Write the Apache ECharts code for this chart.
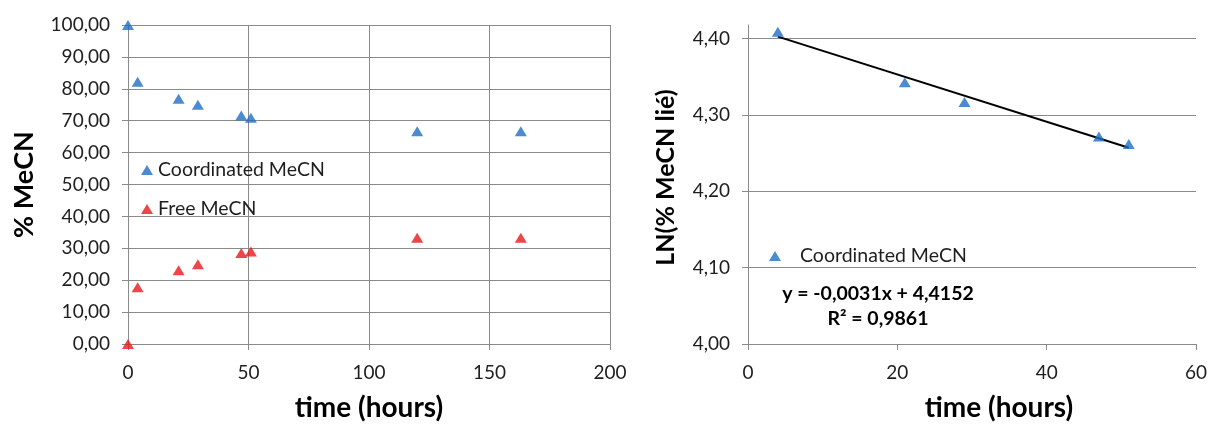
<!DOCTYPE html>
<html>
<head>
<meta charset="utf-8">
<script src="https://cdn.jsdelivr.net/npm/echarts@6/dist/echarts.min.js"></script>
<style>
html,body{margin:0;padding:0;background:#fff;}
#c{width:1210px;height:427px;}
</style>
</head>
<body>
<div id="c"></div>
<script>
// ---- data ----
const timeHours = [0, 4, 21, 29, 47, 51, 120, 163];
const coordinatedPct = [100.0, 82.2, 76.9, 75.0, 71.6, 70.9, 66.7, 66.7];
const freePct = [0.0, 17.8, 23.1, 25.0, 28.5, 29.0, 33.3, 33.3];

const lnTimeHours = [4, 21, 29, 47, 51];
const lnCoordinated = [4.409, 4.343, 4.317, 4.272, 4.262];

const trendX = [4, 51];
const trendY = [4.4028, 4.2571];

const leftYTicks = [0, 10, 20, 30, 40, 50, 60, 70, 80, 90, 100];
const rightYTicks = [4.0, 4.1, 4.2, 4.3, 4.4];

const eqText = 'y = -0,0031x + 4,4152';
const r2Text = 'R² = 0,9861';

// ---- chart ----
const FONT = 'Lato';
const GRID = '#8a8a8a';
const BLUE = '#1f6ec4';
const RED = '#e8161d';
const comma2 = v => Number(v).toFixed(2).replace('.', ',');
const zip = (a, b) => a.map((v, i) => [v, b[i]]);

const chart = echarts.init(document.getElementById('c'), null, {renderer: 'canvas'});
const axisText = {color: '#1e1e1e', fontFamily: FONT, fontSize: 19};
const nameText = (size) => ({color: '#000', fontFamily: FONT, fontSize: size, fontWeight: 'bold'});

chart.setOption({
  animation: false,
  backgroundColor: '#fff',
  grid: [
    {left: 128, right: 600, top: 25, bottom: 81, containLabel: false},
    {left: 748, right: 10, top: 25, bottom: 81, containLabel: false}
  ],
  xAxis: [
    {
      gridIndex: 0, type: 'value', min: 0, max: 200, interval: 50,
      axisLine: {show: true, onZero: false, lineStyle: {color: GRID, width: 1}},
      axisTick: {show: true, length: 6, lineStyle: {color: GRID}},
      axisLabel: {margin: 19, ...axisText},
      splitLine: {show: true, lineStyle: {color: GRID, width: 1}},
      name: 'time (hours)', nameLocation: 'middle', nameGap: 50, nameTextStyle: nameText(28)
    },
    {
      gridIndex: 1, type: 'value', min: 0, max: 60, interval: 20,
      axisLine: {show: true, onZero: false, lineStyle: {color: GRID, width: 1}},
      axisTick: {show: true, length: 6, lineStyle: {color: GRID}},
      axisLabel: {margin: 19, ...axisText},
      splitLine: {show: false},
      name: 'time (hours)', nameLocation: 'middle', nameGap: 50,
      nameTextStyle: {...nameText(28), padding: [0, 0, 0, 54]}
    }
  ],
  yAxis: [
    {
      gridIndex: 0, type: 'value', min: 0, max: 100, interval: 10,
      axisLine: {show: true, onZero: false, lineStyle: {color: GRID, width: 1}},
      axisTick: {show: true, length: 6, lineStyle: {color: GRID}},
      axisLabel: {margin: 18, formatter: comma2, ...axisText},
      splitLine: {show: true, lineStyle: {color: GRID, width: 1}},
      name: '% MeCN', nameLocation: 'middle', nameGap: 90, nameRotate: 90, nameTextStyle: nameText(27)
    },
    {
      gridIndex: 1, type: 'value', min: 4.0, max: 4.418, interval: 0.1,
      axisLine: {show: true, onZero: false, lineStyle: {color: GRID, width: 1}},
      axisTick: {show: true, length: 6, customValues: rightYTicks, lineStyle: {color: GRID}},
      axisLabel: {margin: 18, customValues: rightYTicks, formatter: comma2, ...axisText},
      splitLine: {show: true, customValues: rightYTicks, lineStyle: {color: GRID, width: 1}},
      name: 'LN(% MeCN lié)', nameLocation: 'middle', nameGap: 70, nameRotate: 90,
      nameTextStyle: {...nameText(25), padding: [0, 0, 0, 14]}
    }
  ],
  legend: [
    {
      orient: 'vertical', left: 141, top: 160, padding: 0, itemWidth: 12, itemHeight: 10, itemGap: 19,
      data: ['Coordinated MeCN', 'Free MeCN'],
      textStyle: {color: '#1e1e1e', fontFamily: FONT, fontSize: 19.5, lineHeight: 20},
      selectedMode: false
    },
    {
      orient: 'vertical', left: 769, top: 246, padding: 0, itemWidth: 12, itemHeight: 10,
      data: ['Coordinated MeCN'],
      textStyle: {color: '#1e1e1e', fontFamily: FONT, fontSize: 19.5, lineHeight: 20, padding: [0, 0, 0, 14]},
      selectedMode: false
    }
  ],
  graphic: [
    {type: 'text', style: {text: eqText, x: 878, y: 294, fill: '#000', font: 'bold 19.5px Lato', align: 'center', verticalAlign: 'middle'}},
    {type: 'text', style: {text: r2Text, x: 878, y: 319, fill: '#000', font: 'bold 19.5px Lato', align: 'center', verticalAlign: 'middle'}}
  ],
  series: [
    {
      name: 'Coordinated MeCN', type: 'scatter', xAxisIndex: 0, yAxisIndex: 0,
      symbol: 'triangle', symbolSize: [12, 10], itemStyle: {color: BLUE},
      data: zip(timeHours, coordinatedPct), z: 3
    },
    {
      name: 'Free MeCN', type: 'scatter', xAxisIndex: 0, yAxisIndex: 0,
      symbol: 'triangle', symbolSize: [12, 10], itemStyle: {color: RED},
      data: zip(timeHours, freePct), z: 3
    },
    {
      name: 'Trend', type: 'line', xAxisIndex: 1, yAxisIndex: 1,
      symbol: 'none', lineStyle: {color: '#000', width: 2}, data: zip(trendX, trendY), z: 2
    },
    {
      name: 'Coordinated MeCN', type: 'scatter', xAxisIndex: 1, yAxisIndex: 1,
      symbol: 'triangle', symbolSize: [12, 10], itemStyle: {color: BLUE},
      data: zip(lnTimeHours, lnCoordinated), z: 3
    }
  ]
});
</script>
</body>
</html>
